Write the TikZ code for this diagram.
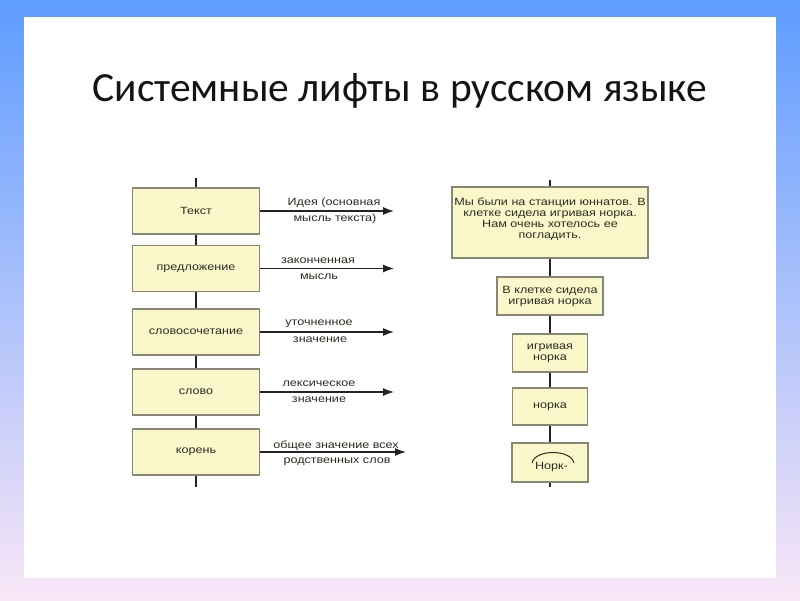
\documentclass[tikz,border=0pt]{standalone}
\usepackage{fontspec}
\setmainfont{Liberation Sans}
\newfontfamily\titlefont{Carlito}
\newfontfamily\boxfont[FakeStretch=1.2]{Liberation Sans}
\usetikzlibrary{arrows.meta}
\definecolor{bgtop}{RGB}{94,156,255}
\definecolor{bgmid}{RGB}{165,200,248}
\definecolor{bgbot}{RGB}{249,230,247}
\definecolor{boxfill}{RGB}{250,248,202}
\definecolor{boxdraw}{RGB}{135,135,115}
\definecolor{txt}{RGB}{45,45,35}
\definecolor{linec}{RGB}{35,35,35}
\tikzset{
  boxtext/.style={font=\boxfont\fontsize{10.5}{11}\selectfont, text=txt},
  lbox/.style={draw=boxdraw, fill=boxfill, line width=1.3pt, minimum width=127pt, minimum height=46pt, inner sep=2pt, boxtext},
  rbox/.style={draw=boxdraw, fill=boxfill, line width=1.3pt, inner sep=2pt, align=center, boxtext},
  spine/.style={draw=linec, line width=2.5pt},
  outarrow/.style={draw=linec, line width=1.4pt, -{Latex[length=11pt,width=8pt]}},
  lab/.style={boxtext, inner sep=0pt}
}
\begin{document}
\begin{tikzpicture}[x=1pt,y=-1pt]
\useasboundingbox (0,0) rectangle (800,600);
\shade[top color=bgtop, middle color=bgmid, bottom color=bgbot] (0,0) rectangle (800,600);
\fill[white] (24,17) rectangle (776,578);

\node[font=\titlefont\fontsize{41.5}{46}\selectfont, text=black!92, anchor=base] (title) at (400,101) {Системные лифты в русском языке};

% left column
\coordinate (ltop) at (196,178);
\coordinate (lbot) at (196,487);
\node[lbox] (t) at (196,211) {Текст};
\node[lbox] (p) at (196,268.5) {предложение};
\node[lbox] (s) at (196,332) {словосочетание};
\node[lbox] (w) at (196,392) {слово};
\node[lbox] (k) at (196,452) {корень};
\draw[spine] (ltop) -- (t.north);
\draw[spine] (t.south) -- (p.north);
\draw[spine] (p.south) -- (s.north);
\draw[spine] (s.south) -- (w.north);
\draw[spine] (w.south) -- (k.north);
\draw[spine] (k.south) -- (lbot);

\coordinate (te) at (394,211);
\coordinate (pe) at (394,268.5);
\coordinate (se) at (394,332);
\coordinate (we) at (394,392);
\coordinate (ke) at (406,452);
\draw[outarrow] (t.east) -- (te);
\draw[outarrow] (p.east) -- (pe);
\draw[outarrow] (s.east) -- (se);
\draw[outarrow] (w.east) -- (we);
\draw[outarrow] (k.east) -- (ke);

\node[lab] (t1) at (334,203) {Идея (основная};
\node[lab] (t2) at (335,219) {мысль текста)};
\node[lab] (p1) at (318,260.5) {законченная};
\node[lab] (p2) at (319,277) {мысль};
\node[lab] (s1) at (319,324) {уточненное};
\node[lab] (s2) at (320,340) {значение};
\node[lab] (w1) at (319,383.5) {лексическое};
\node[lab] (w2) at (319,399.5) {значение};
\node[lab] (k1) at (336,445.5) {общее значение всех};
\node[lab] (k2) at (337,462) {родственных слов};

% right column
\coordinate (rtop) at (550,180);
\coordinate (rbot) at (550,487);
\node[rbox, minimum width=196pt, minimum height=71pt] (r1) at (550,222.5) {Мы были на станции юннатов. В\\клетке сидела игривая норка.\\Нам очень хотелось ее\\погладить.\\[-2pt]\mbox{}};
\node[rbox, minimum width=106pt, minimum height=38pt] (r2) at (550,296) {В клетке сидела\\игривая норка};
\node[rbox, minimum width=75pt, minimum height=38pt] (r3) at (550,353) {игривая\\норка};
\node[rbox, minimum width=75pt, minimum height=37pt] (r4) at (550,406.5) {норка};
\node[rbox, minimum width=76pt, minimum height=39pt] (r5) at (550,462.5) {};
\node[lab] (r5t) at (551.5,467) {Норк-};
\draw[spine] (rtop) -- (r1.north);
\draw[spine] (r1.south) -- (r2.north);
\draw[spine] (r2.south) -- (r3.north);
\draw[spine] (r3.south) -- (r4.north);
\draw[spine] (r4.south) -- (r5.north);
\draw[spine] (r5.south) -- (rbot);
\draw[draw=txt, line width=1pt] (532,463) .. controls (535,449) and (571,449) .. (574,463);
\end{tikzpicture}
\end{document}
